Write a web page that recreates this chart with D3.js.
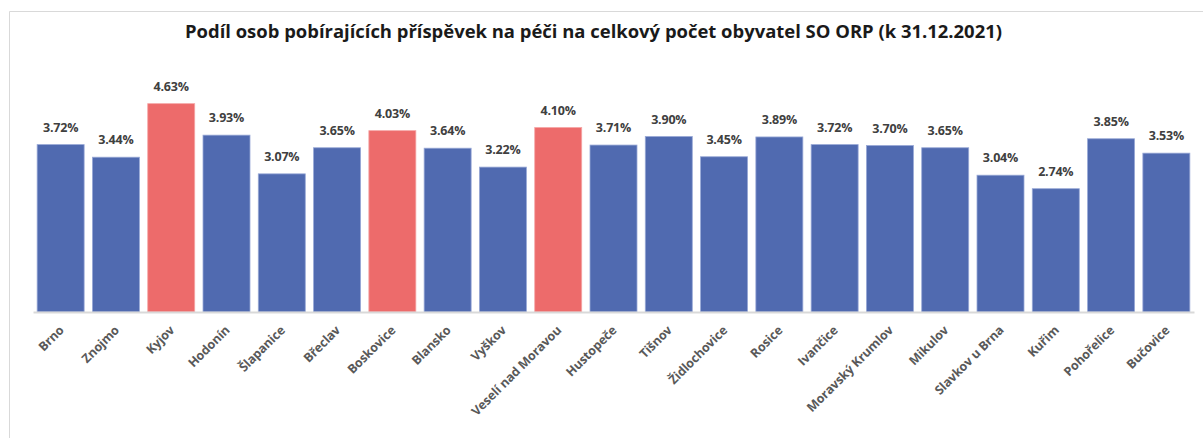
<!DOCTYPE html>
<html><head><meta charset="utf-8">
<script src="https://cdn.jsdelivr.net/npm/d3@7"></script>
<style>html,body{margin:0;padding:0;background:#fff;}svg{display:block;}</style>
</head><body>
<svg id="c" width="1203" height="438"></svg>
<script>
const categories = ["Brno","Znojmo","Kyjov","Hodonín","Šlapanice","Břeclav","Boskovice","Blansko","Vyškov","Veselí nad Moravou","Hustopeče","Tišnov","Židlochovice","Rosice","Ivančice","Moravský Krumlov","Mikulov","Slavkov u Brna","Kuřim","Pohořelice","Bučovice"];
const values = [3.72,3.44,4.63,3.93,3.07,3.65,4.03,3.64,3.22,4.10,3.71,3.90,3.45,3.89,3.72,3.70,3.65,3.04,2.74,3.85,3.53];
const highlighted = ["Kyjov","Boskovice","Veselí nad Moravou"];
const title = "Podíl osob pobírajících příspěvek na péči na celkový počet obyvatel SO ORP (k 31.12.2021)";

const svg = d3.select("#c");
const font = "'Open Sans', 'Noto Sans', sans-serif";

// chart border
svg.append("path").attr("d","M9.5,438 V11.5 H1203").attr("fill","none").attr("stroke","#d9d9d9").attr("stroke-width",1);

const x = d3.scaleBand().domain(categories).range([33,1194]).paddingInner(0.15).paddingOuter(0.075);
const y = d3.scaleLinear().domain([0,5]).range([312,87]);

svg.append("text").attr("x",593.5).attr("y",38).attr("text-anchor","middle")
  .attr("font-family",font).attr("font-weight","bold").attr("font-size",17.5)
  .attr("fill","#1a1a1a").attr("textLength",817).attr("lengthAdjust","spacingAndGlyphs").text(title);

svg.append("g").selectAll("rect").data(categories).join("rect")
  .attr("x",d=>x(d)).attr("width",x.bandwidth())
  .attr("y",(d,i)=>y(values[i])).attr("height",(d,i)=>y(0)-y(values[i]))
  .attr("fill",d=>highlighted.includes(d)?"#ED6B6B":"#506AB0")
  .attr("stroke",d=>highlighted.includes(d)?"#f5a6a6":"#98a8d6").attr("stroke-width",0.8);

// axis baseline
const ax = svg.append("g").attr("transform","translate(0,312)").call(d3.axisBottom(x).tickSize(0).tickPadding(0));
ax.select(".domain").attr("stroke","#d9d9d9").attr("stroke-width",2.2);
ax.selectAll("text").remove();

// value labels
svg.append("g").selectAll("text").data(categories).join("text")
  .attr("x",d=>x(d)+x.bandwidth()/2).attr("y",(d,i)=>y(values[i])-13)
  .attr("text-anchor","middle").attr("font-family",font).attr("font-weight","bold")
  .attr("font-size",12.5).attr("fill","#404040").attr("letter-spacing","-0.2")
  .text((d,i)=>values[i].toFixed(2)+"%");

// category labels
svg.append("g").selectAll("text").data(categories).join("text")
  .attr("transform",d=>`translate(${x(d)+x.bandwidth()/2+4},${331}) rotate(-45)`)
  .attr("text-anchor","end").attr("font-family",font).attr("font-weight","bold")
  .attr("font-size",12.5).attr("fill","#595959").attr("letter-spacing","-0.1")
  .text(d=>d);
</script>
</body></html>
